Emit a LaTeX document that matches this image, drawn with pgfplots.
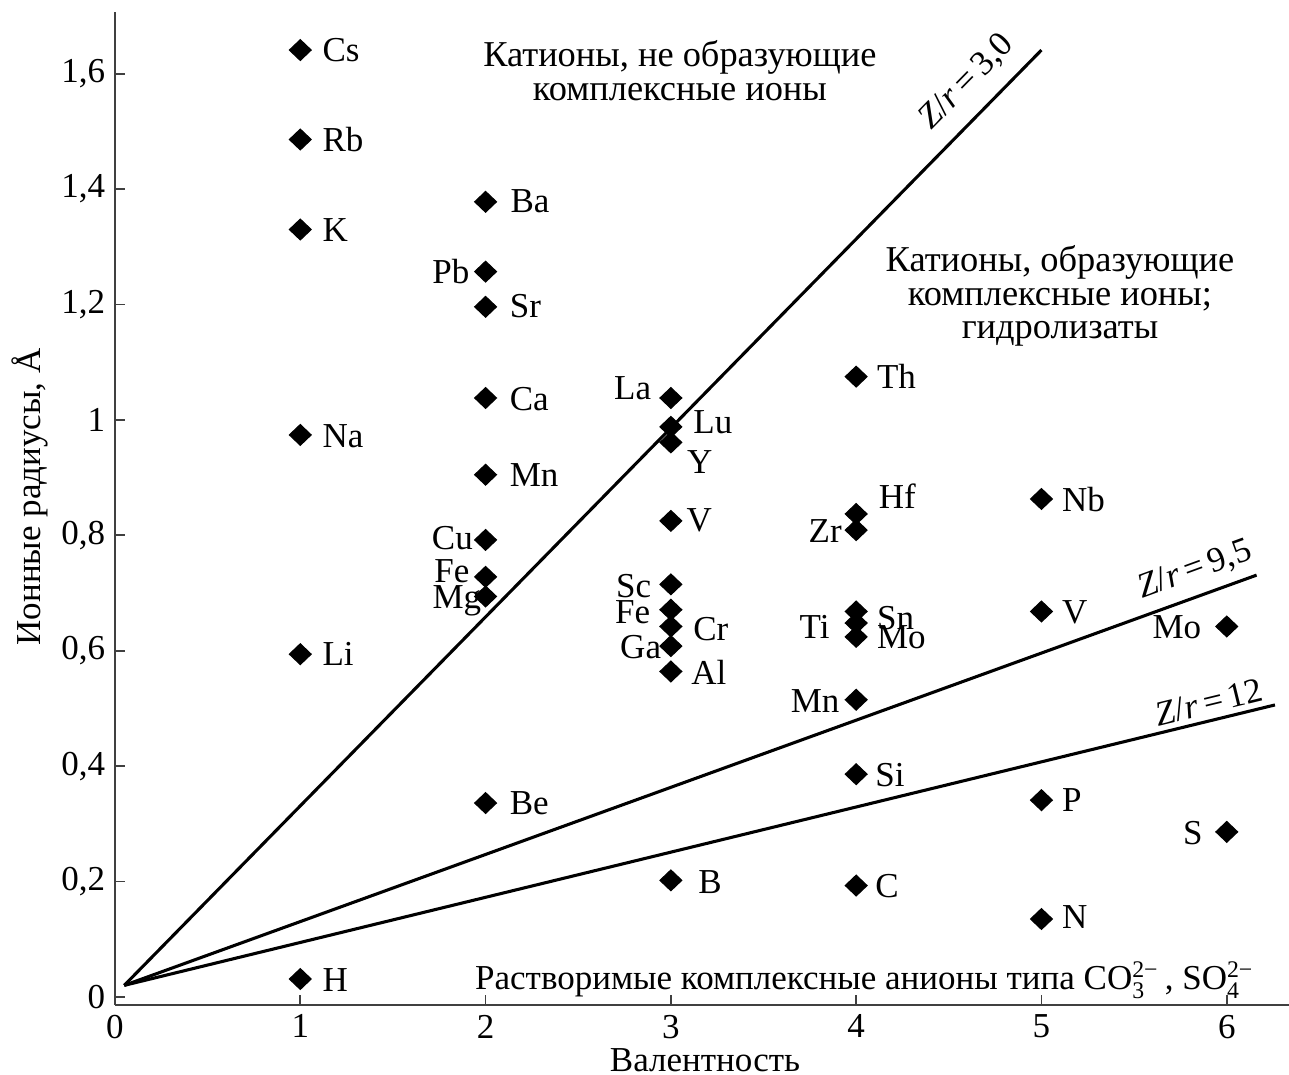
\documentclass[border=0pt]{standalone}
\usepackage{fontspec}
\setmainfont{Liberation Serif}
\usepackage{pgfplots}
\usepackage{pgfplotstable}
\pgfplotsset{compat=1.18}

% Ionic radii (Angstrom) vs valence
\pgfplotstableread{
x y
1 1.641
1 1.486
1 1.330
1 0.974
1 0.594
1 0.031
2 1.378
2 1.257
2 1.196
2 1.038
2 0.905
2 0.792
2 0.728
2 0.694
2 0.336
3 1.038
3 0.988
3 0.961
3 0.825
3 0.715
3 0.671
3 0.642
3 0.608
3 0.564
3 0.202
4 1.075
4 0.837
4 0.809
4 0.668
4 0.648
4 0.624
4 0.515
4 0.386
4 0.193
5 0.863
5 0.668
5 0.341
5 0.135
6 0.642
6 0.286
}\radii

\newcommand{\fs}{\fontsize{12.5}{12}\selectfont}
\newcommand{\fr}{\fontsize{13}{12}\selectfont}
\newcommand{\ssc}{\fontsize{8.5}{9}\selectfont}
\tikzset{lab/.style={font=\fs, inner sep=0pt}}

\begin{document}
\begin{tikzpicture}
\begin{axis}[
  scale only axis, width=419.29pt, height=354.64pt,
  xmin=0, xmax=6.336, ymin=-0.014, ymax=1.707,
  axis x line=bottom, axis y line=left,
  axis line style={-, black!75, line width=0.8pt},
  every outer x axis line/.append style={-},
  every outer y axis line/.append style={-},
  xtick={0,1,2,3,4,5,6},
  xticklabels={0,1,2,3,4,5,6},
  ytick={0,0.2,0.4,0.6,0.8,1,1.2,1.4,1.6},
  yticklabels={0,{0,2},{0,4},{0,6},{0,8},1,{1,2},{1,4},{1,6}},
  tick align=inside, major tick length=3.6pt,
  tick style={black!75, line width=0.6pt},
  tick label style={font=\fs},
  xlabel={Валентность},
  ylabel={Ионные радиусы, Å},
  xlabel style={font=\fs, at={(axis description cs:0.5026,-0.0554)}, anchor=center},
  ylabel style={font=\fs, at={(axis description cs:-0.0724,0.5116)}, anchor=center},
]
% Z/r lines
\addplot[black, line width=1.1pt, no marks] coordinates {(0.05,0.02) (5.0,1.641)};
\addplot[black, line width=1.1pt, no marks] coordinates {(0.05,0.02) (6.161,0.731)};
\addplot[black, line width=1.1pt, no marks] coordinates {(0.05,0.02) (6.26,0.506)};

% points
\addplot[only marks, mark=diamond*, mark size=3.7pt,
  mark options={xscale=1.4, fill=black, draw=black}] table[x=x,y=y] {\radii};

% line labels
\node[lab, rotate=45.6] at (axis cs:4.598,1.586) {\textit{Z}/\textit{r}\,=\,3,0};
\node[lab, rotate=20] at (axis cs:5.828,0.740) {\textit{Z}/\textit{r}\,=\,9,5};
\node[lab, rotate=13.7] at (axis cs:5.904,0.511) {\textit{Z}/\textit{r}\,=\,12};

% region labels
\node[lab, font=\fr, align=center] at (axis cs:3.049,1.605) {Катионы, не образующие\\комплексные ионы};
\node[lab, font=\fr, align=center] at (axis cs:5.10,1.215) {Катионы, образующие\\комплексные ионы;\\гидролизаты};
\node[lab, anchor=base] at (axis cs:4.045,0.012) {Растворимые комплексные анионы типа CO$^{\mbox{\ssc 2−}}_{\mbox{\ssc 3}}$\,, SO$^{\mbox{\ssc 2−}}_{\mbox{\ssc 4}}$};

% element labels (baseline = centre - 0.019)
% valence 1
\node[lab, anchor=base west] at (axis cs:1.117,1.621) {Cs};
\node[lab, anchor=base west] at (axis cs:1.117,1.465) {Rb};
\node[lab, anchor=base west] at (axis cs:1.117,1.309) {K};
\node[lab, anchor=base west] at (axis cs:1.117,0.952) {Na};
\node[lab, anchor=base west] at (axis cs:1.117,0.574) {Li};
\node[lab, anchor=base west] at (axis cs:1.117,0.010) {H};
% valence 2
\node[lab, anchor=base west] at (axis cs:2.132,1.359) {Ba};
\node[lab, anchor=base east] at (axis cs:1.916,1.236) {Pb};
\node[lab, anchor=base west] at (axis cs:2.128,1.177) {Sr};
\node[lab, anchor=base west] at (axis cs:2.128,1.017) {Ca};
\node[lab, anchor=base west] at (axis cs:2.128,0.884) {Mn};
\node[lab, anchor=base east] at (axis cs:1.934,0.776) {Cu};
\node[lab, anchor=base east] at (axis cs:1.916,0.719) {Fe};
\node[lab, anchor=base east] at (axis cs:1.979,0.674) {Mg};
\node[lab, anchor=base west] at (axis cs:2.128,0.317) {Be};
% valence 3
\node[lab, anchor=base east] at (axis cs:2.896,1.036) {La};
\node[lab, anchor=base west] at (axis cs:3.119,0.976) {Lu};
\node[lab, anchor=base west] at (axis cs:3.085,0.907) {Y};
\node[lab, anchor=base west] at (axis cs:3.082,0.806) {V};
\node[lab, anchor=base east] at (axis cs:2.896,0.692) {Sc};
\node[lab, anchor=base east] at (axis cs:2.891,0.647) {Fe};
\node[lab, anchor=base west] at (axis cs:3.118,0.617) {Cr};
\node[lab, anchor=base east] at (axis cs:2.950,0.587) {Ga};
\node[lab, anchor=base west] at (axis cs:3.108,0.542) {Al};
\node[lab, anchor=base west] at (axis cs:3.145,0.179) {B};
% valence 4
\node[lab, anchor=base west] at (axis cs:4.110,1.054) {Th};
\node[lab, anchor=base west] at (axis cs:4.119,0.846) {Hf};
\node[lab, anchor=base east] at (axis cs:3.925,0.787) {Zr};
\node[lab, anchor=base east] at (axis cs:3.859,0.621) {Ti};
\node[lab, anchor=base west] at (axis cs:4.110,0.637) {Sn};
\node[lab, anchor=base west] at (axis cs:4.110,0.604) {Mo};
\node[lab, anchor=base east] at (axis cs:3.913,0.493) {Mn};
\node[lab, anchor=base west] at (axis cs:4.101,0.364) {Si};
\node[lab, anchor=base west] at (axis cs:4.101,0.172) {C};
% valence 5
\node[lab, anchor=base west] at (axis cs:5.109,0.841) {Nb};
\node[lab, anchor=base west] at (axis cs:5.109,0.648) {V};
\node[lab, anchor=base west] at (axis cs:5.109,0.321) {P};
\node[lab, anchor=base west] at (axis cs:5.109,0.118) {N};
% valence 6
\node[lab, anchor=base east] at (axis cs:5.865,0.621) {Mo};
\node[lab, anchor=base east] at (axis cs:5.872,0.265) {S};
\end{axis}
\pgfresetboundingbox
\path ([shift={(-41.07pt,-25pt)}]current axis.south west) rectangle ([shift={(0pt,4.29pt)}]current axis.north east);
\end{tikzpicture}
\end{document}
